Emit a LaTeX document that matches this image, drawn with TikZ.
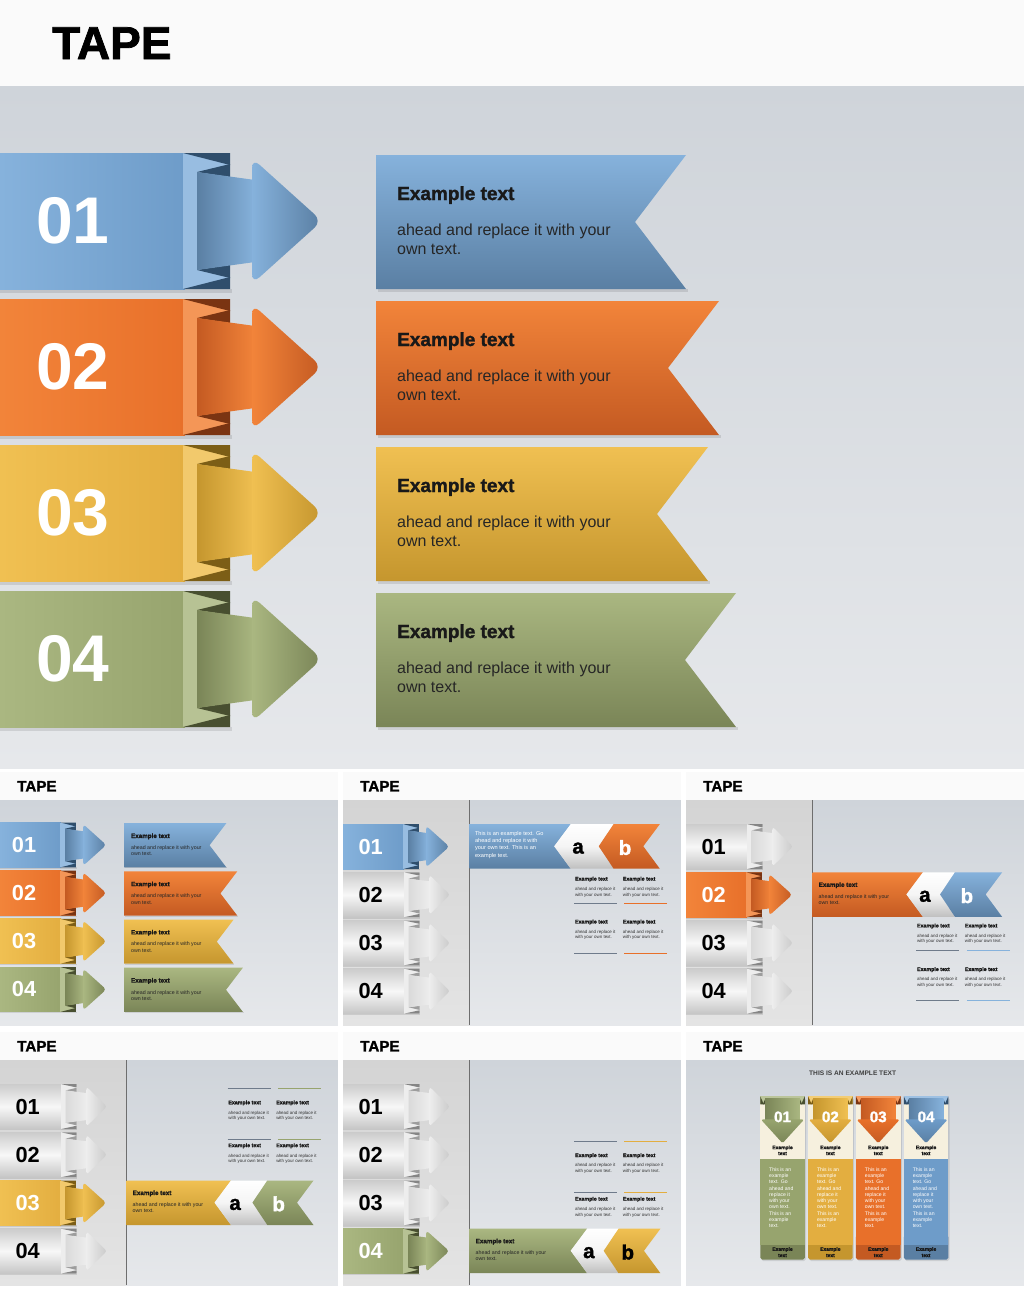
\documentclass[tikz,border=0pt]{standalone}
\usepackage{fontspec}
\setmainfont{Liberation Sans}
\newfontfamily\heavy{Liberation Sans}[BoldFeatures={FakeBold=1.6}]
\definecolor{blueA}{HTML}{86B2DC}
\definecolor{blueB}{HTML}{6E9CC9}
\definecolor{blueC}{HTML}{5A7FA3}
\definecolor{blueD}{HTML}{2F4E6C}
\definecolor{orangeA}{HTML}{F2843A}
\definecolor{orangeB}{HTML}{E8702A}
\definecolor{orangeC}{HTML}{C45A22}
\definecolor{orangeD}{HTML}{7A3412}
\definecolor{yellowA}{HTML}{F0C052}
\definecolor{yellowB}{HTML}{E3AE40}
\definecolor{yellowC}{HTML}{C5962E}
\definecolor{yellowD}{HTML}{7C5E16}
\definecolor{greenA}{HTML}{AAB781}
\definecolor{greenB}{HTML}{97A46E}
\definecolor{greenC}{HTML}{7A8557}
\definecolor{greenD}{HTML}{484F30}
\definecolor{grayA}{HTML}{EDEDED}
\definecolor{grayB}{HTML}{DADADA}
\definecolor{grayC}{HTML}{BDBDBD}
\definecolor{grayD}{HTML}{858585}
\definecolor{hdrc}{HTML}{FAFAFA}
\definecolor{bgA}{HTML}{CFD4DA}
\definecolor{bgB}{HTML}{E6E8EB}
\definecolor{panA}{HTML}{D4D4D4}
\definecolor{panB}{HTML}{E4E4E4}
\definecolor{divc}{HTML}{6E6E6E}
\definecolor{lineg}{HTML}{6F7B8B}
\definecolor{cream}{HTML}{F6F0DE}
\def\us{1}
\tikzset{
 tapettl/.style={font=\heavy\bfseries\fontsize{46}{50}\selectfont, anchor=base west, inner sep=0, text=black},
 num/.style={font=\bfseries\fontsize{66}{70}\selectfont, inner sep=0},
 ttl/.style={font=\heavy\bfseries\fontsize{19}{22}\selectfont, anchor=base west, inner sep=0, text=black!90},
 bod/.style={font=\fontsize{16}{19}\selectfont, anchor=base west, inner sep=0, text=black!85},
 wbod/.style={font=\fontsize{17}{20}\selectfont, anchor=base west, inner sep=0, text=white},
 gttl/.style={font=\heavy\bfseries\fontsize{16}{19}\selectfont, anchor=base west, inner sep=0, text=black!90},
 gbod/.style={font=\fontsize{13.5}{16}\selectfont, anchor=base west, inner sep=0, text=black!80},
 abl/.style={font=\heavy\bfseries\fontsize{62}{66}\selectfont, anchor=base, inner sep=0},
 cnum/.style={font=\heavy\bfseries\fontsize{46}{50}\selectfont, anchor=base, inner sep=0, text=white},
 cttl/.style={font=\heavy\bfseries\fontsize{15}{18}\selectfont, anchor=base, inner sep=0, text=black!90},
 cbod/.style={font=\fontsize{15.5}{18}\selectfont, anchor=base west, inner sep=0, text=white},
 hd/.style={font=\bfseries\fontsize{20}{24}\selectfont, anchor=base, inner sep=0, text=black!75},
 shadow/.style={fill=black, opacity=0.10},
}
% colored tape: ytop, palette, number, number colour, number x
\newcommand\tape[5]{%
\begin{scope}[shift={(0,#1)}]
\fill[shadow] (0,136) rectangle (232,140);
\shade[left color=#2A, right color=#2B] (0,0) rectangle (185,136);
\fill[#2A!85!white] (183,0) rectangle (230,136);
\fill[#2D] (183,0) -- (230,0) -- (230,12) -- cycle;
\fill[#2D] (197,19) -- (230,11) -- (230,24) -- cycle;
\fill[#2D] (183,136) -- (230,136) -- (230,124) -- cycle;
\fill[#2D] (197,117) -- (230,125) -- (230,112) -- cycle;
\shade[left color=#2C, right color=#2A] (197,19) -- (255,27) -- (255,109) -- (197,117) -- cycle;
\shade[left color=#2A, right color=#2C, rounded corners=10pt*\us] (252,5) -- (322,68) -- (252,131) -- cycle;
\node[num, text=#4] at (#5,68) {#3};
\end{scope}}
% gray tape: ytop, number
\newcommand\graytape[2]{%
\begin{scope}[shift={(0,#1)}]
\fill[shadow] (0,136) rectangle (232,140);
\shade[top color=gray!40, bottom color=gray!45, middle color=gray!6] (0,0) rectangle (188,136);
\fill[grayA] (186,0) rectangle (232,136);
\fill[grayD] (186,0) -- (232,0) -- (232,10) -- cycle;
\fill[grayD!80] (199,19) -- (232,11) -- (232,24) -- cycle;
\fill[grayD] (186,136) -- (232,136) -- (232,126) -- cycle;
\fill[grayD!80] (199,117) -- (232,125) -- (232,112) -- cycle;
\shade[left color=grayB, right color=grayA] (199,19) -- (262,27) -- (262,109) -- (199,117) -- cycle;
\shade[left color=grayA, right color=grayC!80, rounded corners=8pt*\us] (262,8) -- (324,68) -- (262,128) -- cycle;
\node[num, text=black] at (84,68) {#2};
\end{scope}}
\newcommand\slidebase{%
\fill[hdrc] (0,0) rectangle (1024,86);
\shade[top color=bgA, bottom color=bgB] (0,86) rectangle (1024,768);
\node[tapettl] at (52,59) {TAPE};}
% main ribbon: ytop, right x, palette
\newcommand\ribbon[3]{%
\fill[shadow] (378,{#1+134}) -- ({#2+2},{#1+134}) -- ({#2+2},{#1+137}) -- (378,{#1+137}) -- cycle;
\shade[top color=#3A, bottom color=#3C] (376,#1) -- (#2,#1) -- ({#2-51},{#1+67}) -- (#2,{#1+134}) -- (376,{#1+134}) -- cycle;
\node[ttl] at (397,{#1+45}) {Example text};
\node[bod] at (397,{#1+80}) {ahead and replace it with your};
\node[bod] at (397,{#1+99}) {own text.};}
\newcommand\slideone{%
\slidebase
\tape{153}{blue}{01}{white}{73}
\tape{299}{orange}{02}{white}{73}
\tape{445}{yellow}{03}{white}{73}
\tape{591}{green}{04}{white}{73}
\ribbon{155}{686}{blue}
\ribbon{301}{719}{orange}
\ribbon{447}{708}{yellow}
\ribbon{593}{736}{green}}
\newcommand\focusbase{%
\slidebase
\shade[top color=panA, bottom color=panB] (0,86) rectangle (383,768);
\draw[divc, line width=2.5pt*\us] (383,86) -- (383,768);}
% focus ribbon: Y, P, palette
\newcommand\fribbon[3]{%
\shade[top color=#3A, bottom color=#3C] (384,#1) -- ({#2+50},#1) -- (#2,{#1+67}) -- ({#2+50},{#1+135}) -- (384,{#1+135}) -- cycle;}
\newcommand\ftext[1]{%
\node[ttl] at (402,{#1+44}) {Example text};
\node[bod] at (402,{#1+79}) {ahead and replace it with your};
\node[bod] at (402,{#1+97}) {own text.};}
% a/b chevrons: Y, P, Q, R, palette of b, letter colour of b
\newcommand\abchev[6]{%
\shade[top color=white, bottom color=gray!50, middle color=gray!8] ({#2+50},#1) -- ({#3+45},#1) -- (#3,{#1+67}) -- ({#3+45},{#1+135}) -- ({#2+50},{#1+135}) -- (#2,{#1+67}) -- cycle;
\shade[top color=#5A, bottom color=#5C] ({#3+45},#1) -- (#4,#1) -- ({#4-50},{#1+67}) -- (#4,{#1+135}) -- ({#3+45},{#1+135}) -- (#3,{#1+67}) -- cycle;
\node[abl, text=black] at ({(#2+#3)/2+5},{#1+89}) {a};
\node[abl, text=#6] at ({(#3+#4-50)/2+12},{#1+93}) {b};}
\newcommand\gblock[2]{%
\node[gttl] at (#1,#2) {Example text};
\node[gbod] at (#1,{#2+30}) {ahead and replace it};
\node[gbod] at (#1,{#2+47}) {with your own text.};}
\newcommand\gline[3]{\draw[#3, line width=2.5pt*\us] (#1,#2) -- ({#1+130},#2);}
% card: x left, palette, number
\newcommand\card[3]{%
\begin{scope}[shift={(#1,195)}]
\fill[shadow, rounded corners=6pt*\us] (3,4) rectangle (139,499);
\fill[#2C, rounded corners=6pt*\us] (0,420) rectangle (135,495);
\fill[#2B] (0,190) rectangle (135,450);
\fill[cream] (0,22) rectangle (135,190);
\fill[#2A!80!white] (0,0) rectangle (135,24);
\fill[#2D] (0,0) -- (0,24) -- (11,24) -- cycle;
\fill[#2D] (135,0) -- (135,24) -- (124,24) -- cycle;
\fill[#2D] (15,8) -- (8,24) -- (22,24) -- cycle;
\fill[#2D] (120,8) -- (127,24) -- (113,24) -- cycle;
\shade[left color=#2C, right color=#2A] (15,6) rectangle (120,72);
\shade[top color=#2B, bottom color=#2C, rounded corners=5pt*\us] (2,70) -- (133,70) -- (67.5,142) -- cycle;
\node[cnum] at (67.5,78) {#3};
\node[cttl] at (67.5,160) {Example};
\node[cttl] at (67.5,178) {text};
\foreach \l [count=\i from 0] in {This is an,example,text. Go,ahead and,replace it,with your,own text.,This is an,example,text.}
  \node[cbod] at (27,{227+19*\i}) {\l};
\node[cttl] at (67.5,468) {Example};
\node[cttl] at (67.5,487) {text};
\end{scope}}
\begin{document}
\begin{tikzpicture}[x=1pt,y=-1pt]
\useasboundingbox (0,0) rectangle (1024,1291);
\fill[white] (0,0) rectangle (1024,1291);
% main slide
\begin{scope}
\slideone
\end{scope}
% thumbnail 1
\begin{scope}[shift={(0,772)}, scale=0.33, transform shape]
\def\us{0.33}
\slideone
\end{scope}
% thumbnail 2
\begin{scope}[shift={(343,772)}, scale=0.33, transform shape]
\def\us{0.33}
\focusbase
\tape{158}{blue}{01}{white}{84}
\graytape{304}{02}
\graytape{450}{03}
\graytape{596}{04}
\fribbon{158}{640}{blue}
\node[wbod] at (400,192) {This is an example text. Go};
\node[wbod] at (400,214) {ahead and replace it with};
\node[wbod] at (400,236) {your own text. This is an};
\node[wbod] at (400,258) {example text.};
\abchev{158}{640}{775}{960}{orange}{white}
\gblock{703}{329}\gblock{848}{329}
\gline{700}{398}{lineg}\gline{853}{398}{orangeB}
\gblock{703}{459}\gblock{848}{459}
\gline{700}{550}{lineg}\gline{853}{550}{orangeB}
\end{scope}
% thumbnail 3
\begin{scope}[shift={(686,772)}, scale=0.33, transform shape]
\def\us{0.33}
\focusbase
\graytape{158}{01}
\tape{304}{orange}{02}{white}{84}
\graytape{450}{03}
\graytape{596}{04}
\fribbon{304}{668}{orange}
\ftext{304}
\abchev{304}{668}{770}{958}{blue}{white}
\gblock{700}{471}\gblock{845}{471}
\gline{697}{542}{lineg}\gline{851}{542}{blueA}
\gblock{700}{603}\gblock{845}{603}
\gline{697}{692}{lineg}\gline{851}{692}{blueA}
\end{scope}
% thumbnail 4
\begin{scope}[shift={(0,1032)}, scale=0.33, transform shape]
\def\us{0.33}
\focusbase
\graytape{158}{01}
\graytape{304}{02}
\tape{450}{yellow}{03}{white}{84}
\graytape{596}{04}
\fribbon{450}{650}{yellow}
\ftext{450}
\abchev{450}{650}{765}{950}{green}{white}
\gline{690}{172}{lineg}\gline{843}{172}{greenB}
\gblock{692}{219}\gblock{837}{219}
\gline{690}{325}{lineg}\gline{843}{325}{greenB}
\gblock{692}{349}\gblock{837}{349}
\end{scope}
% thumbnail 5
\begin{scope}[shift={(343,1032)}, scale=0.33, transform shape]
\def\us{0.33}
\focusbase
\graytape{158}{01}
\graytape{304}{02}
\graytape{450}{03}
\tape{596}{green}{04}{white}{84}
\fribbon{596}{690}{green}
\ftext{596}
\abchev{596}{690}{790}{962}{yellow}{black}
\gline{700}{330}{lineg}\gline{853}{330}{yellowB}
\gblock{703}{379}\gblock{848}{379}
\gline{700}{487}{lineg}\gline{853}{487}{yellowB}
\gblock{703}{511}\gblock{848}{511}
\end{scope}
% thumbnail 6
\begin{scope}[shift={(686,1032)}, scale=0.33, transform shape]
\def\us{0.33}
\slidebase
\node[hd] at (505,132) {THIS IS AN EXAMPLE TEXT};
\card{225}{green}{01}
\card{370}{yellow}{02}
\card{515}{orange}{03}
\card{660}{blue}{04}
\end{scope}
\end{tikzpicture}
\end{document}
